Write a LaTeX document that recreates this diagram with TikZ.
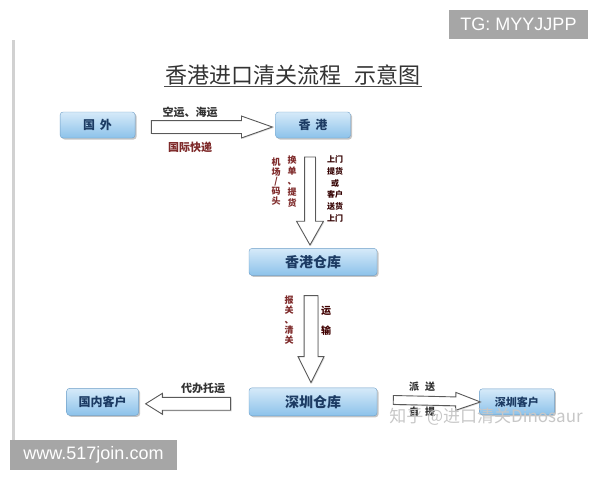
\documentclass[tikz,border=0pt]{standalone}
\usepackage{fontspec}
\setmainfont{Noto Sans CJK SC}
\newfontfamily\wmfont{Liberation Sans}
\usepackage{tikz}
\usetikzlibrary{calc,positioning,shapes.arrows,shadows}
\definecolor{boxtop}{HTML}{D6EAF9}
\definecolor{boxbot}{HTML}{8CC2EA}
\definecolor{boxline}{HTML}{6E9FC8}
\definecolor{boxtext}{HTML}{1C3B63}
\definecolor{labred}{HTML}{7E2A2A}
\definecolor{labdark}{HTML}{333333}
\definecolor{wmgray}{HTML}{A6A6A6}
\tikzset{
  box/.style={draw=boxline, line width=0.4pt, rounded corners=3pt, top color=boxtop, bottom color=boxbot,
    text=boxtext, align=center, inner sep=2pt,
    drop shadow={shadow xshift=1.5pt, shadow yshift=-1.5pt, fill=black!45}},
  smallbox/.style={box, minimum width=75pt, minimum height=26pt, font=\bfseries\fontsize{12}{14}\selectfont},
  bigbox/.style={box, minimum width=128pt, minimum height=27pt, font=\bfseries\fontsize{14}{16}\selectfont},
  hollow/.style={single arrow, draw=black!65, line width=0.9pt, fill=white, inner sep=0pt,
    midway, sloped, allow upside down,
    drop shadow={shadow xshift=1pt, shadow yshift=-1pt, fill=black!25}},
  lab/.style={inner sep=0pt, font=\bfseries\fontsize{10}{12}\selectfont},
  vlab/.style={inner sep=0pt, align=center, font=\bfseries\fontsize{9}{9.8}\selectfont},
  wmbox/.style={fill=wmgray, text=white, inner sep=0pt, font=\wmfont\fontsize{18}{20}\selectfont}
}
\begin{document}
\begin{tikzpicture}[x=1pt, y=-1pt, node distance=110pt]
  \useasboundingbox (0,0) rectangle (600,480);
  \draw[line width=2.5pt, black!18] (13.5,40) -- (13.5,442);

  % title
  \node[inner sep=1pt, text=black!80, font=\fontsize{22}{24}\selectfont] (title) at (293,75)
    {香港进口清关流程\hspace{0.6em}示意图};
  \draw[black!70, line width=0.7pt] (title.south west) -- (title.south east);

  % boxes
  \node[smallbox] (hk) at (313,125) {香\hspace{0.4em}港};
  \node[smallbox, left=140pt of hk] (guowai) {国\hspace{0.4em}外};
  \node[bigbox, below=110pt of hk] (hkwh) {香港仓库};
  \node[bigbox, below=112pt of hkwh, minimum height=28pt] (szwh) {深圳仓库};
  \node[smallbox, left=110pt of szwh, minimum width=72pt, minimum height=27pt] (gnkh) {国内客户};
  \node[smallbox, right=102pt of szwh, font=\bfseries\fontsize{11}{13}\selectfont] (szkh) {深圳客户};

  % hollow arrows
  \path let \p1=($(guowai.east)+(7,2)$), \p2=($(hk.west)+(-12,2)$), \n1={veclen(\x2-\x1,\y2-\y1)} in
    (\p1) -- (\p2) node[hollow, minimum height=\n1, inner ysep=6pt,
      single arrow head extend=4.5pt, single arrow tip angle=39] (arr1) {};
  \path let \p1=($(hk.south)+(-3,14)$), \p2=($(hkwh.north)+(-3,-8)$), \n1={veclen(\x2-\x1,\y2-\y1)} in
    (\p1) -- (\p2) node[hollow, minimum height=\n1, inner ysep=5pt,
      single arrow head extend=8pt, single arrow tip angle=59] (arr2) {};
  \path let \p1=($(hkwh.south)+(-2,13)$), \p2=($(szwh.north)+(-2,-12)$), \n1={veclen(\x2-\x1,\y2-\y1)} in
    (\p1) -- (\p2) node[hollow, minimum height=\n1, inner ysep=6.5pt,
      single arrow head extend=6pt, single arrow tip angle=53] (arr3) {};
  \path let \p1=($(szwh.west)+(-13,2)$), \p2=($(gnkh.east)+(12,2)$), \n1={veclen(\x2-\x1,\y2-\y1)} in
    (\p1) -- (\p2) node[hollow, minimum height=\n1, inner ysep=6pt,
      single arrow head extend=4pt, single arrow tip angle=64] (arr4) {};
  \path let \p1=($(szwh.east)+(10,-2)$), \p2=($(szkh.west)+(-5,0)$), \n1={veclen(\x2-\x1,\y2-\y1)} in
    (\p1) -- (\p2) node[hollow, minimum height=\n1, inner ysep=4pt,
      single arrow head extend=4.5pt, single arrow tip angle=40] (arr5) {};

  % arrow labels
  \node[lab, text=labdark, font=\bfseries\fontsize{11}{12}\selectfont] (l1) at (190,112) {空运、海运};
  \node[lab, text=labred, font=\bfseries\fontsize{11}{12}\selectfont] (l2) at (190,147) {国际快递};
  \node[vlab, text=labred] (l3) at (276,181.5) {机\\场\\/\\码\\头};
  \node[vlab, text=labred, font=\bfseries\fontsize{9}{10.6}\selectfont] (l4) at (292,181.5) {换\\单\\、\\提\\货};
  \node[vlab, text=black!80!red, font=\bfseries\fontsize{8}{11.7}\selectfont] (l5) at (335,189) {上门\\提货\\或\\客户\\送货\\上门};
  \node[vlab, text=labred] (l6) at (289,320) {报\\关\\、\\清\\关};
  \node[vlab, text=black!75!red, font=\bfseries\fontsize{10}{20}\selectfont] (l7) at (326,321) {运\\输};
  \node[lab, text=labdark, font=\bfseries\fontsize{11}{12}\selectfont] (l8) at (203,388) {代办托运};
  \node[lab, text=labdark] (l9) at (422,387) {派\hspace{0.6em}送};
  \node[lab, text=labdark] (l10) at (422,412) {自\hspace{0.6em}提};

  % marks on the picture
  \node[text=black!22, inner sep=0pt, font=\fontsize{17}{18}\selectfont] (zhihu) at (486,417) {知乎 @进口清关Dinosaur};
  \node[wmbox, minimum width=139pt, minimum height=29pt] (tg) at (518.5,24.5) {TG: MYYJJPP};
  \node[wmbox, minimum width=167pt, minimum height=30pt] (web) at (93.5,455) {www.517join.com};
\end{tikzpicture}
\end{document}
